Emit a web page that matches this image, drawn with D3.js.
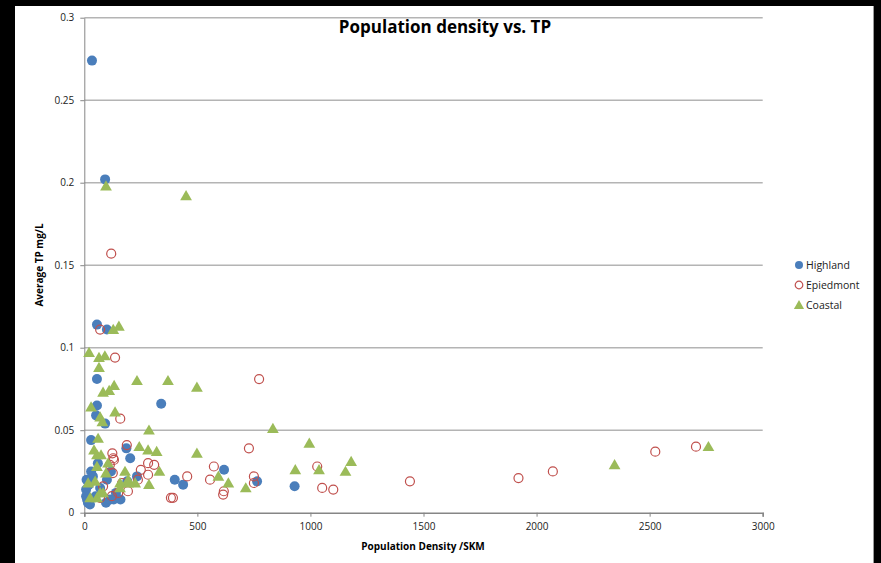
<!DOCTYPE html>
<html>
<head>
<meta charset="utf-8">
<script src="https://cdn.jsdelivr.net/npm/d3@7"></script>
<style>
  body { margin: 0; background: #000; }
  svg { display: block; }
  .tick text { font-family: "Open Sans", sans-serif; font-size: 10px; fill: #222; }
</style>
</head>
<body>
<div id="chart"></div>
<script>
// series data: [population density, average TP]
var highland = [
  [34,0.274],[92,0.202],[56,0.114],[100,0.111],[56,0.081],[56,0.065],[52,0.059],[92,0.054],
  [30,0.044],[340,0.066],[186,0.039],[203,0.033],[400,0.020],[437,0.017],[618,0.026],[764,0.019],
  [930,0.016],[10,0.020],[8,0.014],[8,0.010],[16,0.006],[12,0.008],[30,0.025],[38,0.022],
  [60,0.030],[118,0.025],[96,0.006],[115,0.008],[130,0.008],[160,0.008],[190,0.019],[233,0.022],
  [140,0.012],[20,0.017],[70,0.015],[50,0.010],[25,0.005],[100,0.020]
];
var epiedmont = [
  [70,0.111],[136,0.094],[119,0.157],[159,0.057],[773,0.081],[728,0.039],[188,0.041],[124,0.036],
  [128,0.033],[131,0.032],[282,0.030],[309,0.029],[282,0.023],[250,0.026],[455,0.022],[573,0.028],
  [556,0.020],[617,0.013],[614,0.011],[750,0.022],[750,0.018],[383,0.009],[392,0.009],[1030,0.028],
  [1052,0.015],[1101,0.014],[1440,0.019],[1920,0.021],[2072,0.025],[2525,0.037],[2705,0.040],
  [193,0.013],[237,0.020],[126,0.024],[113,0.029],[83,0.016],[122,0.010],[150,0.012],[167,0.018],[70,0.009]
];
var coastal = [
  [96,0.198],[450,0.192],[128,0.111],[153,0.113],[21,0.097],[65,0.094],[91,0.095],[65,0.088],
  [233,0.080],[370,0.080],[83,0.073],[110,0.074],[132,0.077],[30,0.064],[136,0.061],[498,0.076],
  [286,0.050],[834,0.051],[70,0.058],[80,0.055],[61,0.045],[243,0.040],[282,0.038],[320,0.037],
  [498,0.036],[332,0.025],[286,0.017],[593,0.022],[637,0.018],[714,0.015],[933,0.026],[995,0.042],
  [1180,0.031],[1038,0.026],[1155,0.025],[2345,0.029],[2760,0.040],[43,0.038],[56,0.035],[74,0.035],
  [105,0.030],[56,0.028],[180,0.025],[96,0.024],[17,0.018],[48,0.019],[158,0.018],[194,0.020],
  [26,0.009],[56,0.009],[70,0.012],[83,0.012],[158,0.015],[194,0.018],[225,0.018]
];
var seriesNames = ["Highland", "Epiedmont", "Coastal"];
var xTicks = [0, 500, 1000, 1500, 2000, 2500, 3000];
var yTicks = [0, 0.05, 0.1, 0.15, 0.2, 0.25, 0.3];

var width = 881, height = 563;
var plotLeft = 84.3, plotRight = 762.7, plotTop = 17.7, plotBottom = 512.7;

var svg = d3.select("#chart").append("svg")
    .attr("width", width)
    .attr("height", height);

// white chart area inside the black frame
svg.append("rect")
    .attr("x", 15).attr("y", 6)
    .attr("width", 858).attr("height", height - 6)
    .attr("fill", "#fff");
svg.append("line")
    .attr("x1", 873.5).attr("x2", 873.5).attr("y1", 6).attr("y2", height)
    .attr("stroke", "#999");

var x = d3.scaleLinear().domain([0, 3000]).range([plotLeft, plotRight]);
var y = d3.scaleLinear().domain([0, 0.3]).range([plotBottom, plotTop]);

// gridlines
svg.append("g")
    .selectAll("line")
    .data(yTicks.filter(function (d) { return d > 0; }))
    .enter().append("line")
    .attr("x1", plotLeft).attr("x2", plotRight)
    .attr("y1", function (d) { return y(d); })
    .attr("y2", function (d) { return y(d); })
    .attr("stroke", "#b4b4b4")
    .attr("stroke-width", 1.5);

var yAxis = svg.append("g")
    .attr("transform", "translate(" + plotLeft + ",0)")
    .call(d3.axisLeft(y).tickValues(yTicks).tickSize(4).tickPadding(6).tickSizeOuter(0)
        .tickFormat(function (d) { return d === 0 ? "0" : String(+d.toFixed(2)); }));
yAxis.selectAll("path, line").attr("stroke", "#868686");

var xAxis = svg.append("g")
    .attr("transform", "translate(0," + plotBottom + ")")
    .call(d3.axisBottom(x).tickValues(xTicks).tickSize(4).tickPadding(6).tickSizeOuter(4)
        .tickFormat(function (d) { return String(d); }));
xAxis.selectAll("path, line").attr("stroke", "#868686");
xAxis.select("path").attr("stroke-width", 1.5);

var blue = "#4a7ebb", red = "#c0504d", green = "#9bbb59";
var tri = d3.symbol().type(d3.symbolTriangle).size(60);

svg.append("g").selectAll("circle")
    .data(highland).enter().append("circle")
    .attr("cx", function (d) { return x(d[0]); })
    .attr("cy", function (d) { return y(d[1]); })
    .attr("r", 5)
    .attr("fill", blue);

svg.append("g").selectAll("circle")
    .data(epiedmont).enter().append("circle")
    .attr("cx", function (d) { return x(d[0]); })
    .attr("cy", function (d) { return y(d[1]); })
    .attr("r", 4.5)
    .attr("fill", "none")
    .attr("stroke", red)
    .attr("stroke-width", 1.2);

svg.append("g").selectAll("path")
    .data(coastal).enter().append("path")
    .attr("d", tri)
    .attr("transform", function (d) { return "translate(" + x(d[0]) + "," + (y(d[1]) + 1) + ")"; })
    .attr("fill", green);

// titles
svg.append("text")
    .attr("x", 445).attr("y", 33)
    .attr("text-anchor", "middle")
    .style("font-family", "Open Sans, sans-serif")
    .style("font-size", "17px")
    .style("font-weight", "bold")
    .text("Population density vs. TP");

svg.append("text")
    .attr("x", 423).attr("y", 550)
    .attr("text-anchor", "middle")
    .style("font-family", "Open Sans, sans-serif")
    .style("font-size", "10px")
    .style("font-weight", "bold")
    .text("Population Density /SKM");

svg.append("text")
    .attr("transform", "translate(43,265)rotate(-90)")
    .attr("text-anchor", "middle")
    .style("font-family", "Open Sans, sans-serif")
    .style("font-size", "10px")
    .style("font-weight", "bold")
    .text("Average TP mg/L");

// legend
var legend = svg.append("g").attr("transform", "translate(799,265)");
var item = legend.selectAll("g")
    .data(seriesNames).enter().append("g")
    .attr("transform", function (d, i) { return "translate(0," + (i * 20) + ")"; });
item.each(function (d, i) {
    var g = d3.select(this);
    if (i === 0) g.append("circle").attr("r", 4).attr("fill", blue);
    else if (i === 1) g.append("circle").attr("r", 3.8).attr("fill", "none").attr("stroke", red).attr("stroke-width", 1.2);
    else g.append("path").attr("d", d3.symbol().type(d3.symbolTriangle).size(45)).attr("transform", "translate(0,1)").attr("fill", green);
});
item.append("text")
    .attr("x", 7).attr("dy", "0.35em")
    .style("font-family", "Open Sans, sans-serif")
    .style("font-size", "10.5px")
    .style("fill", "#222")
    .text(function (d) { return d; });
</script>
</body>
</html>
